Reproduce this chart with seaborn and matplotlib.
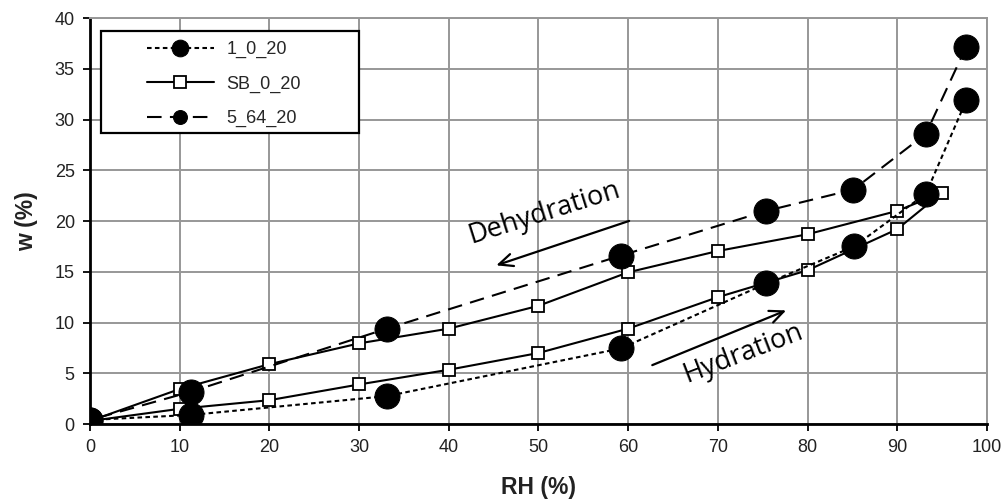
import numpy as np
import pandas as pd
import matplotlib
matplotlib.use("Agg")
import matplotlib.pyplot as plt
import matplotlib.patches as mpatches
import seaborn as sns

# Data
rh_1_0_20 = [0, 11.3, 33.1, 59.2, 75.4, 85.2, 93.2, 97.7]
w_1_0_20 = [0.4, 0.9, 2.75, 7.45, 13.85, 17.5, 22.7, 31.9]

rh_sb_0_20 = [0, 10, 20, 30, 40, 50, 60, 70, 80, 90, 95,
              90, 80, 70, 60, 50, 40, 30, 20, 10, 0]
w_sb_0_20 = [0.3, 1.5, 2.35, 3.9, 5.35, 7.0, 9.4, 12.5, 15.15, 19.2, 22.8,
             21.0, 18.7, 17.05, 14.95, 11.65, 9.4, 7.95, 5.9, 3.45, 0.3]

rh_5_64_20 = [97.7, 93.2, 85.1, 75.4, 59.2, 33.1, 11.3, 0]
w_5_64_20 = [37.2, 28.6, 23.1, 21.0, 16.6, 9.4, 3.2, 0.4]

x_ticks = list(range(0, 101, 10))
y_ticks = list(range(0, 41, 5))

sns.set_style("white")
plt.rcParams["font.family"] = ["Liberation Sans", "DejaVu Sans"]

df1 = pd.DataFrame({"RH": rh_1_0_20, "w": w_1_0_20})
df2 = pd.DataFrame({"RH": rh_sb_0_20, "w": w_sb_0_20})
df3 = pd.DataFrame({"RH": rh_5_64_20, "w": w_5_64_20})

fig, ax = plt.subplots(figsize=(10.05, 5.03), dpi=100)
fig.subplots_adjust(left=0.0896, right=0.982, top=0.964, bottom=0.157)

sns.lineplot(data=df2, x="RH", y="w", ax=ax, sort=False, estimator=None,
             color="black", lw=1.5, marker="s", markersize=8.5,
             markerfacecolor="white", markeredgecolor="black", markeredgewidth=1.3,
             label="SB_0_20", zorder=3)
sns.lineplot(data=df1, x="RH", y="w", ax=ax, sort=False, estimator=None,
             color="black", lw=1.5, linestyle=(0, (2.2, 1.6)), marker="o", markersize=18,
             markerfacecolor="black", markeredgecolor="black",
             label="1_0_20", zorder=4)
sns.lineplot(data=df3, x="RH", y="w", ax=ax, sort=False, estimator=None,
             color="black", lw=1.5, linestyle=(0, (7, 4)), marker="o", markersize=18,
             markerfacecolor="black", markeredgecolor="black",
             label="5_64_20", zorder=4)

ax.set_xlim(0, 100)
ax.set_ylim(0, 40)
ax.set_xticks(x_ticks)
ax.set_yticks(y_ticks)
ax.grid(True, color="#979797", lw=1.4)
ax.set_axisbelow(True)
ax.tick_params(bottom=True, left=True, direction="out", length=5, width=1.3,
               color="black", labelsize=13, pad=6, labelcolor="#222222")
for side in ["left", "bottom"]:
    ax.spines[side].set_color("black")
    ax.spines[side].set_linewidth(2)
for side in ["top", "right"]:
    ax.spines[side].set_color("#979797")
    ax.spines[side].set_linewidth(1.4)

ax.set_xlabel("RH (%)", fontsize=16.5, fontweight="bold", color="#222222", labelpad=14)
ax.set_ylabel("w (%)", fontsize=16.5, fontweight="bold", color="#222222", labelpad=12)

# arrows and labels
ax.annotate("", xy=(45.0, 15.55), xytext=(60.4, 20.1),
            arrowprops=dict(arrowstyle="->,head_length=1.0,head_width=0.45", lw=1.6, color="black"))
ax.annotate("", xy=(77.9, 11.3), xytext=(62.4, 5.7),
            arrowprops=dict(arrowstyle="->,head_length=1.0,head_width=0.45", lw=1.6, color="black"))
ax.text(50.7, 20.8, "Dehydration", fontsize=19.5, family="Open Sans", rotation=17.5,
        ha="center", va="center", rotation_mode="anchor", color="black")
ax.text(72.8, 7.0, "Hydration", fontsize=19.5, family="Open Sans", rotation=21,
        ha="center", va="center", rotation_mode="anchor", color="black")

# legend with a plain box behind it
ax.add_patch(mpatches.Rectangle((0.0123, 0.7167), 0.2876, 0.2513, transform=ax.transAxes,
                                facecolor="white", edgecolor="black", lw=1.6, zorder=5))
handles, labels = ax.get_legend_handles_labels()
order = [labels.index("1_0_20"), labels.index("SB_0_20"), labels.index("5_64_20")]
leg = ax.legend([handles[i] for i in order], [labels[i] for i in order],
                loc="upper left", bbox_to_anchor=(0.0632, 0.944), borderaxespad=0,
                borderpad=0, frameon=False, fontsize=13, handlelength=3.7,
                handletextpad=0.7, labelspacing=0.96)
leg.set_zorder(6)
leg_lines = leg.get_lines()
leg_lines[0].set_markersize(12)
leg_lines[1].set_markersize(8)
leg_lines[2].set_markersize(10)

plt.savefig("out.png", dpi=100)
plt.close()
